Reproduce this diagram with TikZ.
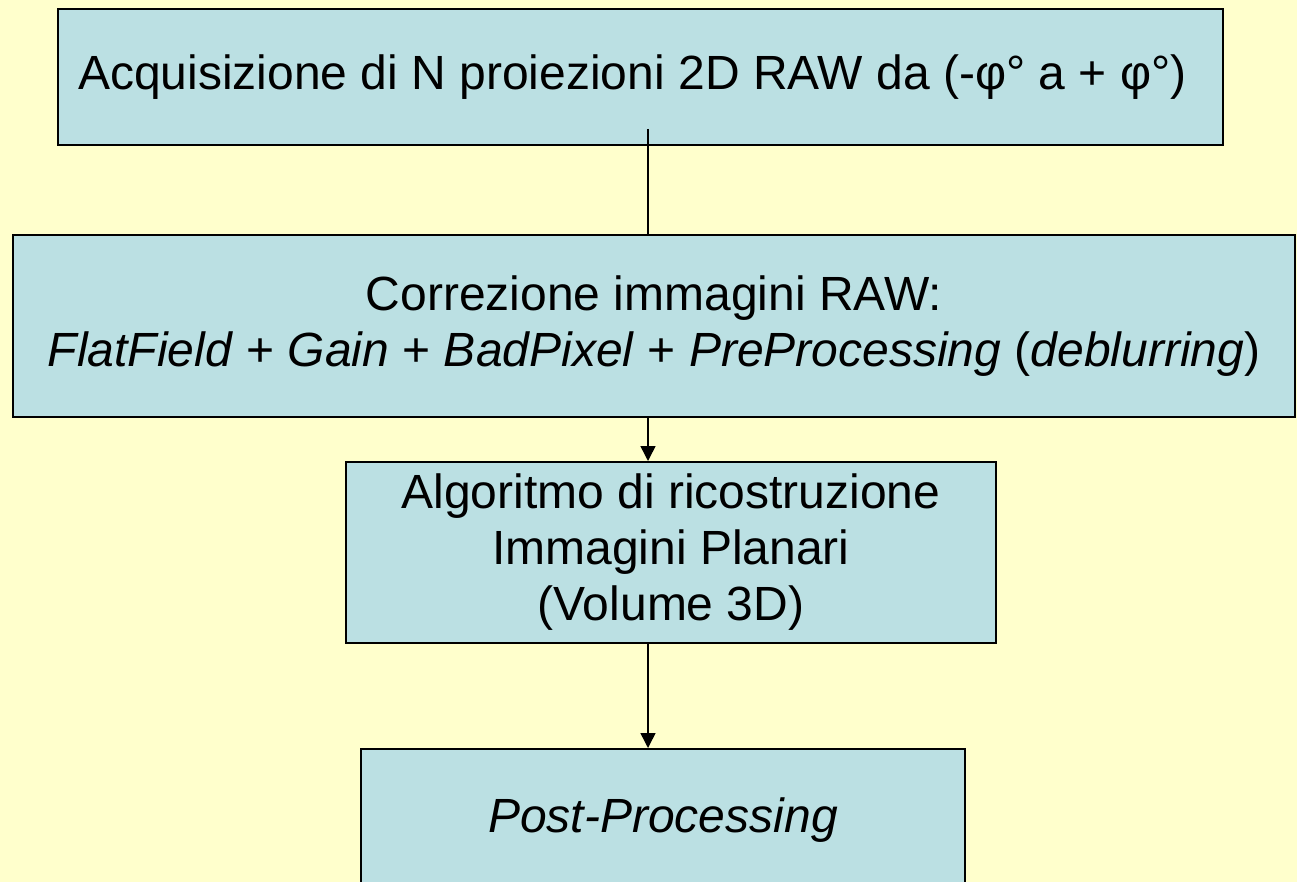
\documentclass[tikz,border=0pt]{standalone}
\usepackage{fontspec}
\setmainfont{Liberation Sans}
\usetikzlibrary{arrows.meta}
\definecolor{bgyellow}{RGB}{255,255,204}
\definecolor{boxblue}{RGB}{187,224,227}
\begin{document}
\begin{tikzpicture}[x=1pt,y=-1pt,
  flowbox/.style={draw=black,line width=2pt,fill=boxblue,rectangle,inner sep=0pt,
    align=center,font=\fontsize{48}{56}\selectfont},
  conn/.style={draw=black,line width=1.5pt},
  arr/.style={conn,-{Triangle[width=15pt,length=15pt]}}]
\clip (0,0) rectangle (1297,882);
\fill[bgyellow] (0,0) rectangle (1297,882);
\node[flowbox,minimum width=1165pt,minimum height=136pt] (b1) at (640.5,77)
  {Acquisizione di N proiezioni 2D RAW da (-φ° a + φ°)\hspace*{16pt}};
\node[flowbox,minimum width=1282pt,minimum height=182pt] (b2) at (654,326)
  {Correzione immagini RAW:\\\textit{FlatField} + \textit{Gain} + \textit{BadPixel} + \textit{PreProcessing} (\textit{deblurring})};
\node[flowbox,minimum width=650pt,minimum height=181pt] (b3) at (671,552.5)
  {Algoritmo di ricostruzione\\Immagini Planari\\(Volume 3D)};
\node[flowbox,minimum width=604pt,minimum height=142pt] (b4) at (663,820)
  {\textit{Post-Processing}};
\coordinate (c1) at (648,129);
\draw[conn] (c1) -- (c1 |- b2.north);
\draw[arr] (b2.south -| c1) -- (b3.north -| c1);
\draw[arr] (b3.south -| c1) -- (b4.north -| c1);
\end{tikzpicture}
\end{document}
